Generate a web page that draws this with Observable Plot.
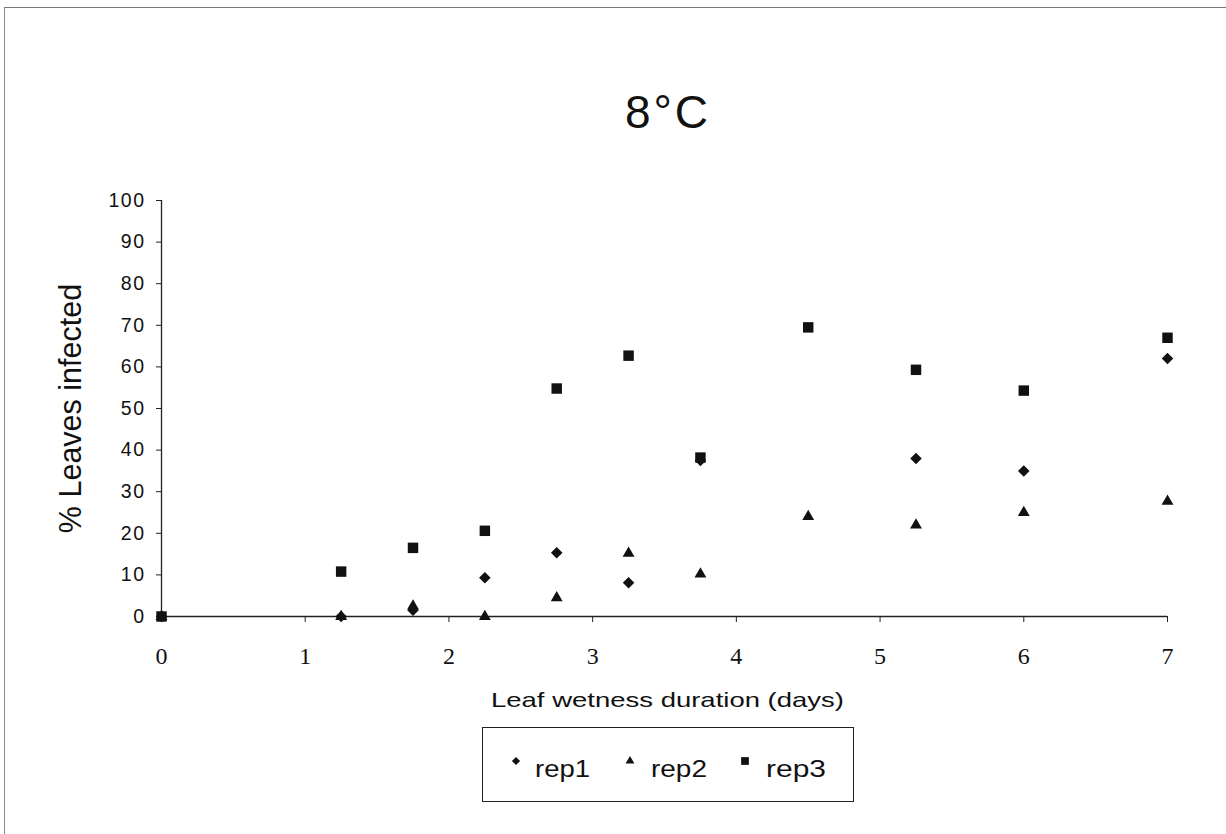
<!DOCTYPE html>
<html>
<head>
<meta charset="utf-8">
<script src="https://cdn.jsdelivr.net/npm/d3@7"></script>
<script src="https://cdn.jsdelivr.net/npm/@observablehq/plot@0.6"></script>
<style>
  body { margin: 0; background: #fff; }
  #page { position: relative; width: 1226px; height: 834px; overflow: hidden; background: #fff;
          font-family: "Liberation Sans", Arial, Helvetica, sans-serif; color: #111; }
  #frame { position: absolute; left: 4px; top: 7px; width: 1260px; height: 860px;
           border-top: 1.5px solid #777; border-left: 1.5px solid #888; }
  #title { position: absolute; left: 568px; top: 89px; width: 200px; text-align: center;
           font-size: 46px; line-height: 46px; letter-spacing: 3px; color: #111; }
  #chart { position: absolute; left: 0; top: 170px; }
  #legend { position: absolute; left: 482px; top: 727px; width: 372px; height: 75px;
            box-sizing: border-box; border: 1px solid #222; background: #fff; }
</style>
</head>
<body>
<div id="page">
  <div id="frame"></div>
  <div id="title">8°C</div>
  <div id="chart"></div>
  <div id="legend"></div>
</div>
<script>
// ---- data ----
const days  = [0, 1.25, 1.75, 2.25, 2.75, 3.25, 3.75, 4.5, 5.25, 6, 7];
const rep1  = [0, 0, 1.5, 9.3, 15.3, 8.1, 37.5, null, 38.0, 35.0, 62.0];
const rep2  = [0, 0, 2.5, 0, 4.5, 15.2, 10.2, 24.0, 22.0, 25.0, 27.7];
const rep3  = [0, 10.8, 16.5, 20.6, 54.8, 62.7, 38.2, 69.5, 59.3, 54.3, 67.0];
const seriesNames = ["rep1", "rep2", "rep3"];
const xTicks = [0, 1, 2, 3, 4, 5, 6, 7];
const yTicks = [0, 10, 20, 30, 40, 50, 60, 70, 80, 90, 100];
const xLabel = "Leaf wetness duration (days)";
const yLabel = "% Leaves infected";

const seriesValues = [rep1, rep2, rep3];
const symbols = { rep1: "diamond2", rep2: "triangle", rep3: "square" };
const radii   = { rep1: 5.2, rep2: 4.4, rep3: 5.9 };

const rows = seriesNames.flatMap((s, i) =>
  days.map((d, j) => ({ series: s, days: d, value: seriesValues[i][j] }))
      .filter(r => r.value != null));

const sans = "'Liberation Sans', Arial, Helvetica, sans-serif";
const serif = "'Liberation Serif', 'Times New Roman', serif";

const plot = Plot.plot({
  width: 1226,
  height: 550,
  marginTop: 30,
  marginBottom: 104,
  marginLeft: 161,
  marginRight: 59,
  style: { background: "transparent", color: "#111" },
  x: { domain: [0, 7] },
  y: { domain: [0, 100] },
  marks: [
    Plot.axisY({ ticks: yTicks, tickFormat: d => String(d), tickSize: 5, tickPadding: 11,
                 fontSize: 19.5, fontFamily: sans, label: null, stroke: "#222" }),
    Plot.axisX({ ticks: xTicks, tickFormat: d => String(d), tickSize: 6, tickPadding: 24,
                 fontSize: 24, fontFamily: serif, label: null, stroke: "#222" }),
    Plot.ruleX([0], { y1: 0, y2: 100, stroke: "#222", strokeWidth: 1.3 }),
    Plot.ruleY([0], { x1: 0, x2: 7, stroke: "#222", strokeWidth: 1.3 }),
    ...seriesNames.map(s =>
      Plot.dot(rows.filter(r => r.series === s), {
        x: "days", y: "value", symbol: () => symbols[s], r: radii[s],
        fill: "#111", stroke: "none"
      })),
    Plot.text([yLabel], { text: d => d, frameAnchor: "left", textAnchor: "middle",
                           lineAnchor: "middle", rotate: -90, dx: -90,
                           fontSize: 30.5, fontFamily: sans, fill: "#111" }),
    Plot.text([xLabel], { text: d => d, frameAnchor: "bottom", textAnchor: "middle",
                           lineAnchor: "middle", dx: 3, dy: 84,
                           fontSize: 21, fontFamily: sans, fill: "#111" })
  ]
});
document.getElementById("chart").appendChild(plot);

// stretch the x-axis title to the scanned width
const svg = d3.select(plot);
svg.selectAll("text").each(function () {
  if (this.textContent === xLabel)
    d3.select(this).attr("textLength", 353).attr("lengthAdjust", "spacingAndGlyphs");
});
svg.selectAll("[aria-label='y-axis tick label'] text").style("letter-spacing", "1.5px");

// ---- legend ----
const lg = d3.select("#legend").append("svg").attr("width", 370).attr("height", 73);
const legendPos = [
  { s: "rep1", cx: 33, tx: 52, len: 55, size: 42 },
  { s: "rep2", cx: 147, tx: 168, len: 56, size: 34 },
  { s: "rep3", cx: 262, tx: 283, len: 60, size: 60 }
];
const d3sym = { diamond2: d3.symbolDiamond2, triangle: d3.symbolTriangle, square: d3.symbolSquare };
legendPos.forEach(p => {
  lg.append("path")
    .attr("transform", `translate(${p.cx},33)`)
    .attr("d", d3.symbol(d3sym[symbols[p.s]], p.size)())
    .attr("fill", "#111");
  lg.append("text")
    .attr("x", p.tx).attr("y", 49)
    .attr("font-family", sans).attr("font-size", 23).attr("fill", "#111")
    .attr("textLength", p.len).attr("lengthAdjust", "spacingAndGlyphs")
    .text(p.s);
});
</script>
</body>
</html>
